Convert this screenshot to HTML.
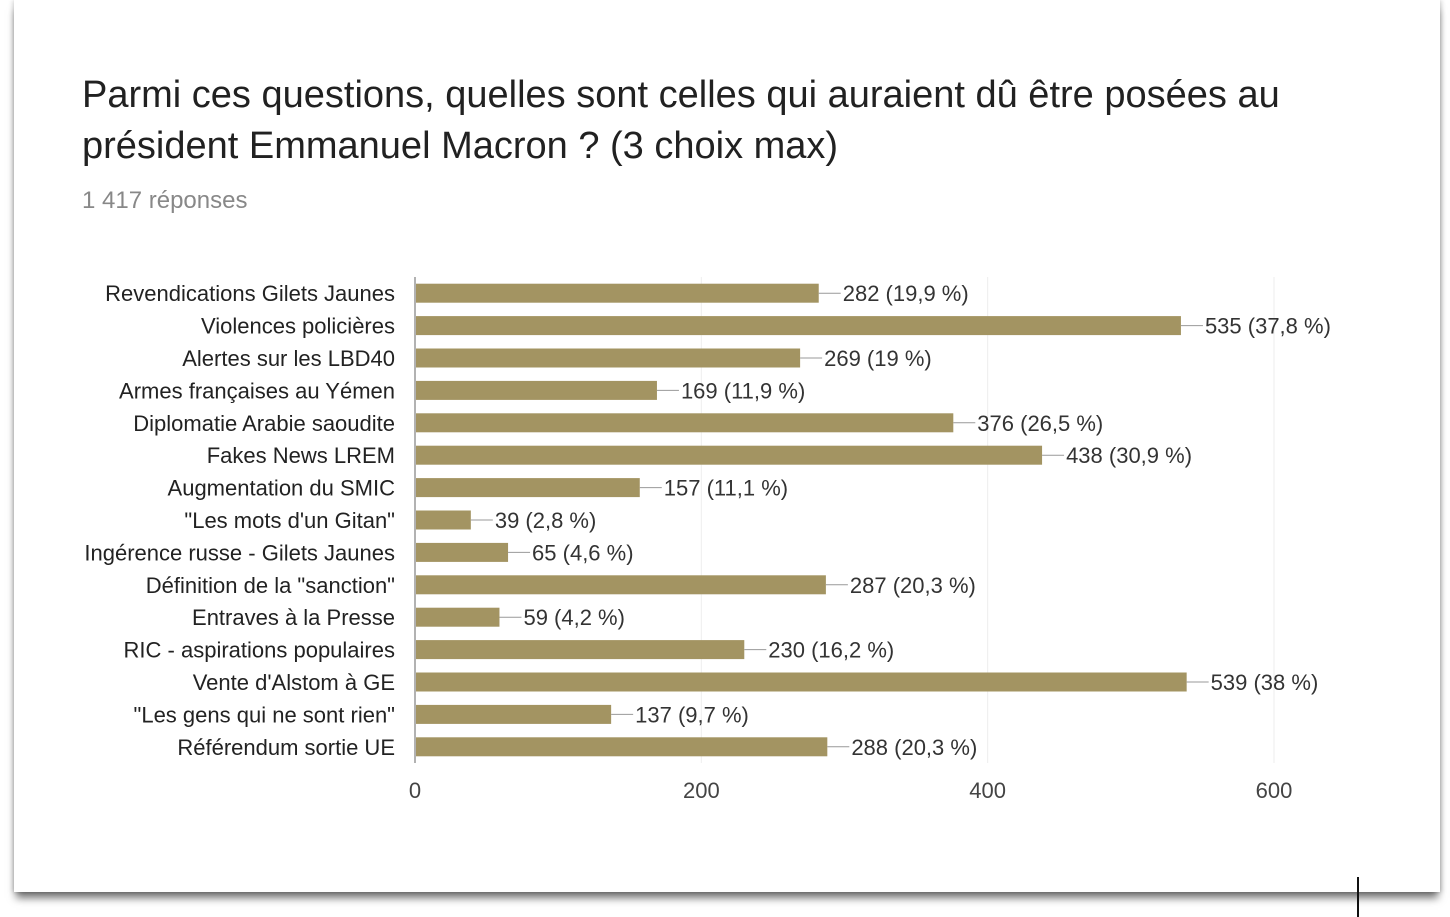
<!DOCTYPE html>
<html><head><meta charset="utf-8"><style>
body{margin:0;width:1450px;height:917px;background:#fff;overflow:hidden;font-family:"Liberation Sans",sans-serif;}
#card{position:absolute;left:14px;top:0;width:1426px;height:892px;background:#fff;box-shadow:0 8px 8px -2px rgba(0,0,0,0.55),2px 0 4px rgba(0,0,0,0.15),-2px 0 4px rgba(0,0,0,0.12);}
#title{position:absolute;left:82px;top:70px;font-size:38px;line-height:51px;color:#212121;}
#sub{position:absolute;left:82px;top:187px;font-size:24px;color:#888;}
#cursor{position:absolute;left:1357px;top:877px;width:2px;height:40px;background:#111;}
svg{position:absolute;left:0;top:0;}
</style></head><body>
<div id="card"></div>
<div id="title">Parmi ces questions, quelles sont celles qui auraient dû être posées au<br>président Emmanuel Macron ? (3 choix max)</div>
<div id="sub">1 417 réponses</div>
<svg id="chart" width="1450" height="917"></svg>
<div id="cursor"></div>
<script>
const categories=["Revendications Gilets Jaunes","Violences policières","Alertes sur les LBD40","Armes françaises au Yémen","Diplomatie Arabie saoudite","Fakes News LREM","Augmentation du SMIC","\"Les mots d'un Gitan\"","Ingérence russe - Gilets Jaunes","Définition de la \"sanction\"","Entraves à la Presse","RIC - aspirations populaires","Vente d'Alstom à GE","\"Les gens qui ne sont rien\"","Référendum sortie UE"];
const values=[282,535,269,169,376,438,157,39,65,287,59,230,539,137,288];
const percents=["19,9 %","37,8 %","19 %","11,9 %","26,5 %","30,9 %","11,1 %","2,8 %","4,6 %","20,3 %","4,2 %","16,2 %","38 %","9,7 %","20,3 %"];
const ticks=[0,200,400,600];
const NS="http://www.w3.org/2000/svg";
const svgEl=document.getElementById('chart');
const x0=415,x1=1274,vmax=600,yTop=277,yBottom=763;
const xs=v=>x0+(x1-x0)*v/vmax;
const step=(yBottom-yTop)/categories.length;
const yc=i=>yTop+step*(i+0.5);
function mk(t,a){const e=document.createElementNS(NS,t);for(const k in a)e.setAttribute(k,a[k]);svgEl.appendChild(e);return e;}
ticks.forEach(t=>{
 if(t>0){const g=mk('line',{x1:xs(t),x2:xs(t),y1:yTop,y2:yBottom,stroke:'#eee','stroke-width':1});
 
 }
 const l=mk('text',{x:xs(t),y:798,'text-anchor':'middle','font-size':22,fill:'#444'});l.textContent=t;
 
 
});
const ax=mk('line',{x1:x0,x2:x0,y1:yTop,y2:yBottom,stroke:'#999','stroke-width':1.5});


categories.forEach((c,i)=>{
 const y=yc(i);
 const b=mk('rect',{x:x0+1,y:y-9.5,width:xs(values[i])-x0-1,height:19,fill:'#a39462'});
 
 
 const t=mk('text',{x:395,y:y+8,'text-anchor':'end','font-size':22,fill:'#222'});t.textContent=c;
 
 
 const ex=xs(values[i]);
 const ln=mk('line',{x1:ex,x2:ex+22,y1:y,y2:y,stroke:'#999','stroke-width':1});
 
 
 const v=mk('text',{x:ex+24,y:y+8,'font-size':22,fill:'#333'});v.textContent=values[i]+" ("+percents[i]+")";
 
 
});
</script>
</body></html>
